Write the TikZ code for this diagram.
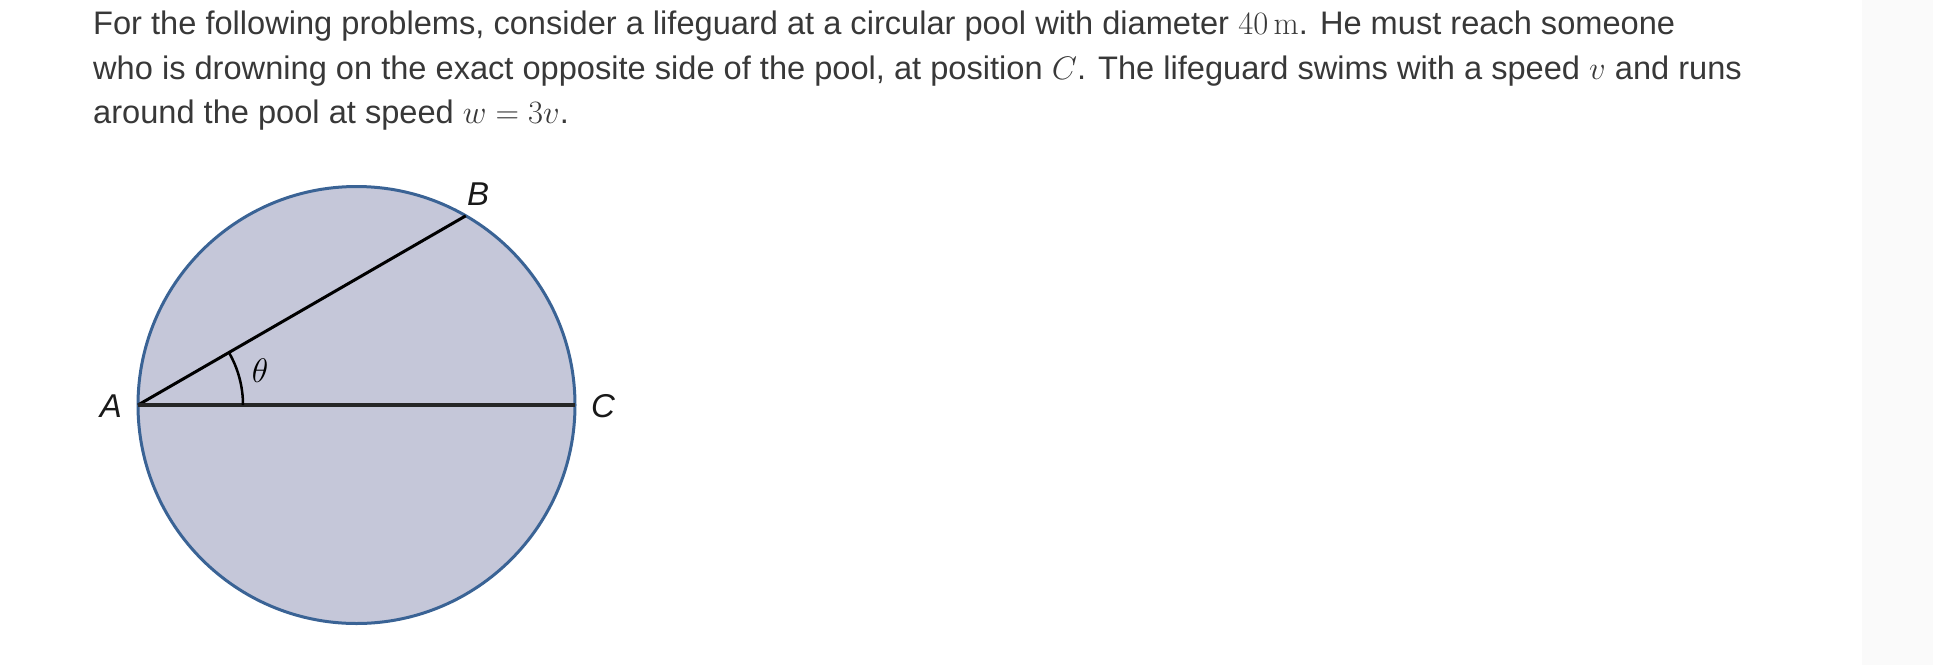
\RequirePackage{fix-cm}
\documentclass[tikz,border=0pt]{standalone}
\usepackage[no-math]{fontspec}
\setmainfont{Liberation Sans}
\usetikzlibrary{positioning}
\definecolor{poolfill}{HTML}{C5C7D9}
\definecolor{poolrim}{HTML}{3A6395}
\definecolor{textgray}{HTML}{383838}
\definecolor{sidebar}{HTML}{FAFAFA}

\begin{document}
\begin{tikzpicture}[x = 1pt, y = -1pt,
  textline/.style = {anchor=base west, inner sep=0pt, text=textgray, font=\fontsize{32.6}{36}\selectfont},
  pointlabel/.style = {inner sep=0pt, text=black!90, font=\fontsize{33}{36}\selectfont\itshape},]

\useasboundingbox (0,0) rectangle (1933,665);
\fill[sidebar] (1862,0) rectangle (1933,665);

\node[textline] (L1) at (93,34) {For the following problems, consider a lifeguard at a circular pool with diameter $40\,\mathrm{m}$. He must reach someone};
\node[textline] (L2) at (93,79) {who is drowning on the exact opposite side of the pool, at position $C$. The lifeguard swims with a speed $v$ and runs};
\node[textline] (L3) at (93,123.5) {around the pool at speed $w = 3v$.};

\coordinate (O) at (356.5,405);
\coordinate (A) at (138,405);
\coordinate (B) at (465.75,215.8);
\coordinate (C) at (575,405);

\draw[poolrim, line width=3pt, fill=poolfill] (O) circle (218.5);

\draw[line width=3pt] (A) -- (B);
\draw[line width=3.5pt, black!85] (A) -- (C);
\draw[line width=2.5pt] (A) ++(105,0) arc[start angle=0, end angle=-30, radius=105];

\node[pointlabel] (labA) at (111,406) {A};
\node[pointlabel] (labB) at (478,194) {B};
\node[pointlabel] (labC) at (603,406) {C};
\node[inner sep=0pt, font=\fontsize{34}{36}\selectfont] (theta) at (260,371) {$\theta$};

\end{tikzpicture}
\end{document}
